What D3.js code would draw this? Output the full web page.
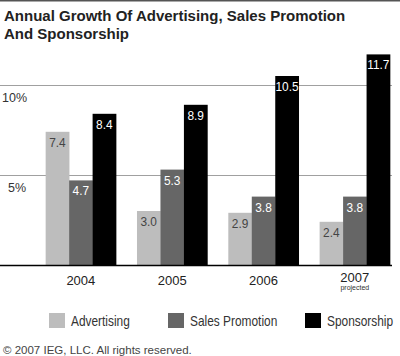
<!DOCTYPE html>
<html><head><meta charset="utf-8">
<script src="https://cdn.jsdelivr.net/npm/d3@7"></script>
<style>body{margin:0;background:#fff}svg{display:block}text{font-family:"Liberation Sans",Arial,sans-serif}</style>
</head><body><svg id="c" width="400" height="356"></svg>
<script>
const years = ["2004","2005","2006","2007"];
const yearNotes = ["","","","projected"];
const seriesNames = ["Advertising","Sales Promotion","Sponsorship"];
const advertising = [7.4,3.0,2.9,2.4];
const salesPromotion = [4.7,5.3,3.8,3.8];
const sponsorship = [8.4,8.9,10.5,11.7];
const gridTicks = [5,10];
const tickLabels = ["5%","10%"];
const colors = ["#bdbdbd","#666666","#000000"];
const labelColors = ["#444","#fff","#fff"];
const title = ["Annual Growth Of Advertising, Sales Promotion","And Sponsorship"];
const footer = "\u00a9 2007 IEG, LLC. All rights reserved.";

const series = [advertising, salesPromotion, sponsorship];
const svg = d3.select("#c");
const y = d3.scaleLinear().domain([0,10]).range([265,85]);
const x0 = d3.scaleBand().domain(years).range([35.25,400.45]).paddingInner(0.229).paddingOuter(0.114);
const x1 = d3.scaleBand().domain(seriesNames).range([0,x0.bandwidth()]).padding(0);

svg.append("line").attr("x1",0).attr("x2",400).attr("y1",0.5).attr("y2",0.5).attr("stroke","#555").attr("stroke-width",2);
svg.append("text").attr("x",4).attr("y",21).attr("font-size",15).attr("font-weight","bold").attr("fill","#222")
  .selectAll("tspan").data(title).join("tspan").attr("x",4).attr("dy",(d,i)=>i?17.5:0).text(d=>d);

// grid
svg.selectAll(".grid").data(gridTicks).join("line").attr("x1",0).attr("x2",392)
  .attr("y1",d=>Math.round(y(d))+0.5).attr("y2",d=>Math.round(y(d))+0.5).attr("stroke","#a0a0a0").attr("stroke-width",1);
svg.selectAll(".tl").data(gridTicks).join("text").attr("x",(d,i)=>i?2:8).attr("y",d=>y(d)+17)
  .attr("font-size",12.5).attr("fill","#333").text((d,i)=>tickLabels[i]);

// bars
const g = svg.selectAll(".grp").data(years).join("g").attr("transform",d=>`translate(${x0(d)},0)`);
g.selectAll("rect").data((d,i)=>series.map((s,k)=>({k,v:s[i]}))).join("rect")
  .attr("x",d=>x1(seriesNames[d.k])).attr("width",x1.bandwidth()+0.3)
  .attr("y",d=>y(d.v)).attr("height",d=>y(0)-y(d.v)).attr("fill",d=>colors[d.k]);
g.selectAll("text.v").data((d,i)=>series.map((s,k)=>({k,v:s[i]}))).join("text")
  .attr("transform",d=>`translate(${x1(seriesNames[d.k])+x1.bandwidth()/2},${y(d.v)+15}) scale(0.88,1)`)
  .attr("text-anchor","middle").attr("font-size",13.5).attr("fill",d=>labelColors[d.k])
  .text(d=>d.v.toFixed(1));

// baseline
svg.append("line").attr("x1",0).attr("x2",392).attr("y1",y(0)+0.5).attr("y2",y(0)+0.5).attr("stroke","#000").attr("stroke-width",1.5);

// x labels
svg.selectAll(".xl").data(years).join("text").attr("x",d=>x0(d)+x0.bandwidth()/2).attr("y",(d,i)=>yearNotes[i]?282:285)
  .attr("text-anchor","middle").attr("font-size",13).attr("fill","#222").text(d=>d);
svg.selectAll(".xn").data(years).join("text").attr("x",d=>x0(d)+x0.bandwidth()/2).attr("y",290)
  .attr("text-anchor","middle").attr("font-size",7).attr("fill","#333").text((d,i)=>yearNotes[i]);

// legend
const legX = [49,168,305];
const lg = svg.selectAll(".lg").data(seriesNames).join("g").attr("transform",(d,i)=>`translate(${legX[i]},313)`);
lg.append("rect").attr("width",16).attr("height",15).attr("fill",(d,i)=>colors[i]);
lg.append("text").attr("transform","translate(22,12.5) scale(0.85,1)").attr("font-size",14).attr("fill","#333").text(d=>d);

svg.append("text").attr("x",3).attr("y",354).attr("font-size",11.5).attr("fill","#444").text(footer);
</script></body></html>
